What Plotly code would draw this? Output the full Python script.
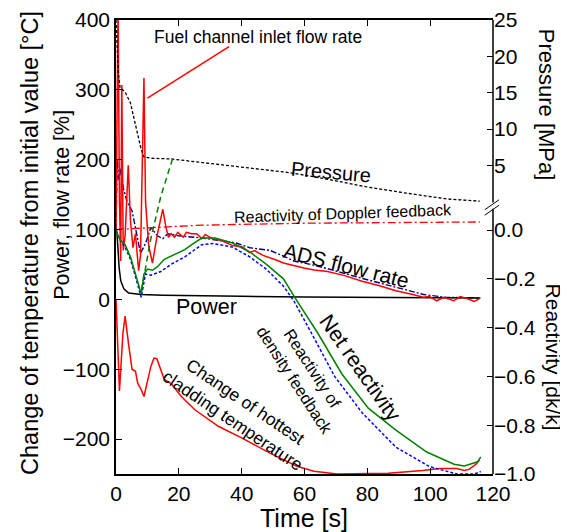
import plotly.graph_objects as go

FONT = "Liberation Sans, Arial, sans-serif"

# fuel channel inlet flow rate [%] (left axis)
fuel_t = [0, 0.3, 0.65, 1.1, 1.5, 1.85, 2.3, 2.9, 3.9, 4.6, 5.4, 6.2, 7.2, 7.8, 8.9, 9.4,
          10.4, 11.6, 13.2, 14.9, 15.9, 16.7, 17.6, 18.6, 19.7, 21.4, 22.4, 24.1, 25.7,
          27.3, 28.4, 30.6, 33.8, 37.1, 40.3, 42.5, 44.1, 46.8, 49.0, 51.2, 53.3, 56.6,
          59.8, 63.1, 67.3, 72.8, 78.3, 83.6, 89.1, 94.5, 97.8, 99.8, 102.1, 104.3,
          107.5, 109.6, 111.9, 114.0, 115.7]
fuel_flow = [101, 285, 420, 141, 55, 307, 70, 91, 192, 113, 74, 94, 41, 63, 317, 141,
             77, 52, 94, 129, 103, 89, 94, 89, 96, 89, 96, 94, 94,
             87, 93, 87, 84, 77, 75, 67, 70, 63, 60, 56, 52, 48,
             45, 42, 40, 34, 26, 20, 12.5, 7, 3, 4, -2, 3,
             -2, 4, 1, -3, 1]

# ADS flow rate [%] (left axis)
ads_t = [0, 0.4, 0.9, 1.6, 2.3, 3.5, 5.1, 6.7, 7.8, 9.4, 11.1, 13.2, 14.9, 16.5, 20,
         27.3, 38.0, 42.6, 49.1, 53.3, 56.6, 62.0, 67.3, 78.4, 89.1, 97.9, 105, 115.8]
ads_flow = [100, 200, 170, 188, 160, 140, 127, 89, 66, 80, 103, 91, 87, 94, 91,
            88, 81, 74, 70, 62, 55, 50, 44, 30, 17, 7, 3, 2]

# power [%] (left axis)
power_t = [0, 0.3, 0.6, 1.0, 1.5, 2.5, 4.0, 6.0, 8.0, 15, 25, 40, 60, 80, 100, 116]
power = [100, 95, 75, 45, 27, 15, 9, 8, 7, 6, 5, 4.5, 3.5, 3, 2.5, 2]

# change of hottest cladding temperature [degC] (left axis)
clad_t = [0, 0.3, 1.1, 2.2, 2.9, 4.0, 5.1, 6.2, 6.9, 8.0, 8.9, 11.1, 12.1, 13.0, 14.3,
          15.3, 17.6, 20.8, 25.1, 32.7, 40.3, 49.0, 57.6, 63.0, 70.4, 79.1, 86.6, 97.6,
          103.0, 108.5, 110.9, 112.5, 114.6, 115.7]
clad_temp = [0, -40, -131, -49, -24, -64, -100, -103, -120, -129, -139, -96, -84, -85, -103,
             -114, -121, -139, -158, -182, -199, -220, -239, -246, -250, -250, -249, -245,
             -242, -242, -245, -243, -236, -230]

# pressure [MPa] (right upper axis)
press_t = [0, 0.3, 0.8, 1.3, 2.9, 4.6, 6.2, 7.8, 8.8, 11.1, 17.6, 27.3, 40.3, 55.6, 66.3,
           79.3, 92.4, 105.4, 115.8]
pressure = [25, 21.6, 17.4, 15.7, 15.1, 13.6, 10.6, 7.6, 6.2, 6.0, 5.9, 5.4, 4.8, 4.0, 3.2,
            2.1, 1.2, 0.4, 0.1]

# net reactivity [dk/k] (right lower axis)
net_t = [0, 0.2, 1.3, 2.9, 4.6, 6.2, 7.8, 8.0, 8.9, 10.0, 11.6, 13.2, 15.4, 18.6, 21.9,
         24.1, 27.3, 31.5, 37.1, 42.6, 47.8, 53.3, 57.6, 64.1, 71.9, 80.3, 89.1, 98.9,
         107.6, 110.9, 115.1, 116.1]
net_react = [0, -0.012, -0.04, -0.06, -0.11, -0.18, -0.25, -0.26, -0.18, -0.16, -0.165,
             -0.15, -0.12, -0.10, -0.08, -0.06, -0.033, -0.033, -0.053, -0.09, -0.14,
             -0.20, -0.29, -0.42, -0.59, -0.73, -0.82, -0.91, -0.96, -0.967, -0.95, -0.93]

# reactivity of density feedback [dk/k]
dens_t = [0, 1.3, 2.9, 4.6, 6.2, 7.8, 8.0, 9.4, 11.1, 14.3, 17.6, 21.9, 27.3, 30.9, 37.1,
          42.6, 47.8, 53.3, 56.6, 62.1, 69.6, 78.4, 89.1, 99.8, 108.6, 114.1, 116.1]
dens_react = [0, -0.04, -0.07, -0.12, -0.19, -0.26, -0.276, -0.18, -0.185, -0.17, -0.14,
              -0.11, -0.06, -0.055, -0.07, -0.11, -0.16, -0.23, -0.29, -0.42, -0.60,
              -0.75, -0.89, -0.97, -1.0, -1.0, -0.99]

# green dashed reactivity component
void_t = [8.1, 11.0, 14.3, 18.2]
void_react = [-0.25, -0.04, 0.14, 0.30]

# reactivity of Doppler feedback [dk/k]
dop_t = [0, 1.5, 4.0, 11.1, 27.3, 59.8, 89.0, 115.8]
dop_react = [0, 0.005, 0.005, 0.01, 0.02, 0.028, 0.03, 0.033]

pressure_ticks = [5, 10, 15, 20, 25]
react_ticks = [0.0, -0.2, -0.4, -0.6, -0.8, -1.0]

fig = go.Figure()


def add_line(x, y, color, dash="solid", axis="y", width=1.4):
    fig.add_trace(go.Scatter(x=x, y=y, mode="lines", yaxis=axis,
                             line=dict(color=color, dash=dash, width=width)))


add_line(press_t, pressure, "black", "3px,2px", "y2", 1.3)
add_line(dop_t, dop_react, "#FF0000", "8px,3px,2px,3px", "y3", 1.3)
add_line(void_t, void_react, "#008000", "6px,4px", "y3", 1.5)
add_line(dens_t, dens_react, "#0000FF", "3px,2px", "y3", 1.5)
add_line(net_t, net_react, "#008000", "solid", "y3", 1.5)
add_line(ads_t, ads_flow, "#000080", "6px,2px,2px,2px", "y", 1.4)
add_line(power_t, power, "black", "solid", "y", 1.5)
add_line(fuel_t, fuel_flow, "#FF0000", "solid", "y", 1.5)
add_line(clad_t, clad_temp, "#FF0000", "solid", "y", 1.5)

axis_font = dict(family=FONT, size=21, color="black")
common = dict(ticks="inside", ticklen=6, tickcolor="black", showgrid=False,
              zeroline=False, tickfont=axis_font, automargin=False,
              ticklabeloverflow="allow")

# the page body adds an 8px offset, so the figure is 8px smaller on those sides
fig.update_layout(
    width=560, height=524,
    margin=dict(l=108, r=75, t=12, b=58, autoexpand=False),
    plot_bgcolor="white", paper_bgcolor="white",
    showlegend=False,
    font=dict(family=FONT, color="black"),
    xaxis=dict(range=[0, 120], tickvals=[0, 20, 40, 60, 80, 100, 120],
               showline=True, linecolor="black", linewidth=1.5, mirror="ticks", **common),
    yaxis=dict(range=[-250, 400], tickvals=[-200, -100, 0, 100, 200, 300, 400],
               showline=True, linecolor="black", linewidth=1.5, **common),
    yaxis2=dict(range=[-37.4, 25], tickvals=pressure_ticks, overlaying="y", side="right",
                anchor="x", showline=False, **common),
    yaxis3=dict(range=[-1.0, 0.861], tickvals=react_ticks,
                ticktext=[f"{v:.1f}".replace("-", "\u2212") for v in react_ticks],
                overlaying="y", side="right", anchor="x", showline=False, **common),
)

# right axis line with a break between pressure and reactivity
fig.add_shape(type="line", xref="paper", yref="paper", x0=1, x1=1, y0=1, y1=0.598,
              line=dict(color="black", width=1.5))
fig.add_shape(type="line", xref="paper", yref="paper", x0=1, x1=1, y0=0.584, y1=0,
              line=dict(color="black", width=1.5))
for y0 in (0.582, 0.570):
    fig.add_shape(type="line", xref="paper", yref="paper",
                  x0=0.978, x1=1.016, y0=y0, y1=y0 + 0.022,
                  line=dict(color="black", width=1))

# leader line for the fuel channel label
fig.add_shape(type="line", xref="x", yref="y", x0=10.0, y0=288, x1=36.0, y1=362,
              line=dict(color="#FF0000", width=1.5))


def label(text, x, y, size, angle=0):
    fig.add_annotation(text=text, x=x, y=y, xref="x", yref="y", showarrow=False,
                       textangle=angle, font=dict(family=FONT, size=size, color="black"))


label("Fuel channel inlet flow rate", 45.2, 376, 17.5)
label("Pressure", 68.3, 183, 20, 5)
label("Reactivity of Doppler feedback", 72.2, 123, 16, -2)
label("ADS flow rate", 73.2, 48, 21, 14)
label("Power", 28.9, -10.5, 21.5)
label("Net reactivity", 77.7, -98, 21.5, 55)
label("Reactivity of<br>density feedback", 59.8, -108, 16.5, 57)
label("Change of hottest<br>cladding temperature", 39.3, -160, 17.5, 34)


def paper_text(text, x, y, size, angle=0):
    fig.add_annotation(text=text, x=x, y=y, xref="paper", yref="paper", showarrow=False,
                       textangle=angle, xanchor="center", yanchor="middle",
                       font=dict(family=FONT, size=size, color="black"))


paper_text("Time [s]", 0.499, -0.096, 25)
paper_text("Change of temperature from initial value [\u00b0C]", -0.228, 0.509, 23.5, -90)
paper_text("Power, flow rate [%]", -0.143, 0.593, 21.5, -90)
paper_text("Pressure [MPa]", 1.141, 0.813, 22, 90)
paper_text("Reactivity [dk/k]", 1.16, 0.258, 21, 90)

fig.write_html("out.html")
